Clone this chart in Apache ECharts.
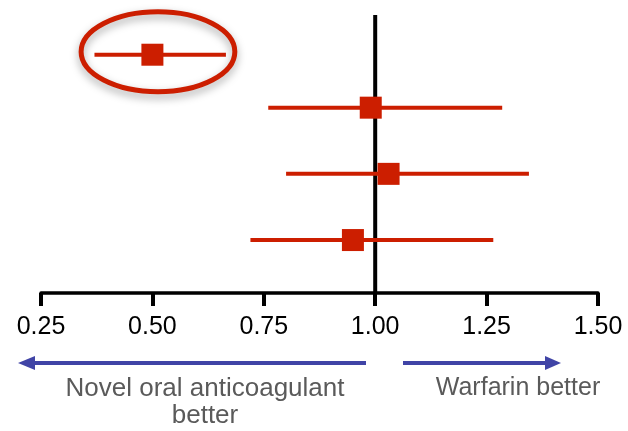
<!DOCTYPE html>
<html lang="en">
<head>
    <meta charset="UTF-8">
    <title>Novel oral anticoagulant vs warfarin</title>
    <script src="https://cdn.jsdelivr.net/npm/echarts@6/dist/echarts.min.js"></script>
    <style type="text/css">
        *{margin:0;padding:0;}
        html,body{background:#fff;}
        #main{width:628px;height:431px;}
    </style>
</head>
<body>
<div id="main"></div>

<script type="text/javascript">
    // 数据: 每行一个研究 (点估计 + 置信区间)
    var estimate = [0.50, 0.99, 1.03, 0.95];
    var lower    = [0.37, 0.76, 0.80, 0.72];
    var upper    = [0.665, 1.285, 1.345, 1.265];
    var rowPos   = [3.6, 2.8, 1.8, 0.8];   // 行在纵轴上的位置
    var tickLabels = ['0.25', '0.50', '0.75', '1.00', '1.25', '1.50'];
    var refValue = 1.0;
    var highlightRow = 0;                   // 画圈的那一行

    var RED = '#cc1e00';
    var BLUE = '#4044a6';
    var GRAY = '#5a5a5a';
    var FONT = 'Liberation Sans, Arial, Helvetica, sans-serif';

    var ciData = [], pointData = [];
    for (var i = 0; i < estimate.length; i++) {
        ciData.push([lower[i], upper[i], rowPos[i]]);
        pointData.push([estimate[i], rowPos[i]]);
    }

    var myChart = echarts.init(document.getElementById('main'));
    var option = {
        animation: false,
        backgroundColor: '#ffffff',
        grid: {
            left: 41,
            right: 30,
            top: 15,
            bottom: 138
        },
        xAxis: {
            type: 'value',
            min: 0.25,
            max: 1.5,
            interval: 0.25,
            axisLine: {
                lineStyle: { color: '#000', width: 3.5 }
            },
            axisTick: {
                length: 13,
                lineStyle: { color: '#000', width: 4 }
            },
            axisLabel: {
                margin: 22,
                fontSize: 25,
                fontFamily: FONT,
                color: '#000',
                formatter: function (v) {
                    var idx = Math.round((v - 0.25) / 0.25);
                    return tickLabels[idx];
                }
            },
            splitLine: { show: false }
        },
        yAxis: {
            type: 'value',
            min: 0,
            max: 4.2,
            show: false
        },
        series: [{
            // 参考线 x = 1
            type: 'line',
            data: [[refValue, 0], [refValue, 4.2]],
            symbol: 'none',
            lineStyle: { color: '#000', width: 4 },
            z: 1
        }, {
            // 置信区间
            type: 'custom',
            data: ciData,
            encode: { x: [0, 1], y: 2 },
            renderItem: function (params, api) {
                var y = api.value(2);
                var a = api.coord([api.value(0), y]);
                var b = api.coord([api.value(1), y]);
                return {
                    type: 'line',
                    shape: { x1: a[0], y1: a[1], x2: b[0], y2: b[1] },
                    style: { stroke: RED, lineWidth: 4 }
                };
            },
            z: 2
        }, {
            // 点估计
            type: 'scatter',
            data: pointData,
            symbol: 'rect',
            symbolSize: 22,
            itemStyle: { color: RED, opacity: 1 },
            z: 3
        }]
    };
    myChart.setOption(option);

    // 高亮行的椭圆
    var c1 = myChart.convertToPixel({ gridIndex: 0 }, [0.34, rowPos[highlightRow]]);
    var c2 = myChart.convertToPixel({ gridIndex: 0 }, [0.685, rowPos[highlightRow]]);
    var arrowY = 363;

    myChart.setOption({
        graphic: [{
            type: 'ellipse',
            shape: {
                cx: (c1[0] + c2[0]) / 2,
                cy: c1[1] - 3,
                rx: (c2[0] - c1[0]) / 2,
                ry: 40
            },
            style: {
                fill: 'none',
                stroke: RED,
                lineWidth: 5,
                shadowBlur: 8,
                shadowColor: 'rgba(0,0,0,0.35)',
                shadowOffsetY: 4
            },
            z: 10
        }, {
            type: 'line',
            shape: { x1: 366, y1: arrowY, x2: 33, y2: arrowY },
            style: { stroke: BLUE, lineWidth: 4 }
        }, {
            type: 'polygon',
            shape: { points: [[18, arrowY], [35, arrowY - 7], [35, arrowY + 7]] },
            style: { fill: BLUE }
        }, {
            type: 'line',
            shape: { x1: 403, y1: arrowY, x2: 548, y2: arrowY },
            style: { stroke: BLUE, lineWidth: 4 }
        }, {
            type: 'polygon',
            shape: { points: [[561, arrowY], [545, arrowY - 7], [545, arrowY + 7]] },
            style: { fill: BLUE }
        }, {
            type: 'text',
            x: 205,
            y: 375,
            style: {
                text: 'Novel oral anticoagulant\nbetter',
                fill: GRAY,
                font: '26px ' + FONT,
                lineHeight: 27,
                align: 'center',
                verticalAlign: 'top'
            }
        }, {
            type: 'text',
            x: 518,
            y: 375,
            style: {
                text: 'Warfarin better',
                fill: GRAY,
                font: '25px ' + FONT,
                lineHeight: 27,
                align: 'center',
                verticalAlign: 'top'
            }
        }]
    });
</script>
</body>
</html>
